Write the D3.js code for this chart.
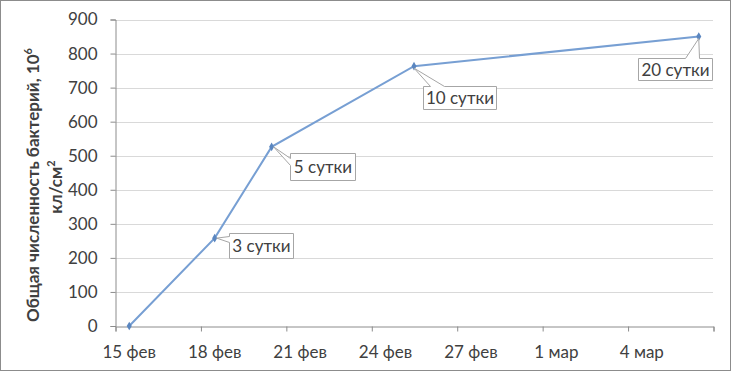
<!DOCTYPE html>
<html>
<head>
<meta charset="utf-8">
<script src="https://cdn.jsdelivr.net/npm/d3@7"></script>
<style>
  body { margin: 0; background: #fff; }
  text { font-family: Lato, "Open Sans", sans-serif; fill: #404040; }
</style>
</head>
<body>
<div id="vizDiv"></div>
<script>
// data (leap year, so 27 фев + 3 = 1 мар)
var dates = ["2016-02-15", "2016-02-18", "2016-02-20", "2016-02-25", "2016-03-06"]
var counts = [0, 258, 526, 763, 850]
var dayLabels = ["", "3 сутки", "5 сутки", "10 сутки", "20 сутки"]
var yTicks = [0, 100, 200, 300, 400, 500, 600, 700, 800, 900]
var monthNames = ["янв", "фев", "мар", "апр"]

var width = 731
var height = 371
var plotLeft = 115, plotRight = 713, plotTop = 19.5, plotBottom = 326
var fontSize = "17px"

var parse = d3.timeParse("%Y-%m-%d")
var start = new Date(2016, 1, 15)
var end = new Date(2016, 2, 7)

var svg = d3.select("#vizDiv")
  .append("svg")
  .attr("width", width)
  .attr("height", height)

// outer frame
svg.append("rect")
  .attr("x", 0.5).attr("y", 0.5)
  .attr("width", width - 1).attr("height", height - 1)
  .attr("fill", "#fff")
  .attr("stroke", "#8c8c8c")

var x = d3.scaleTime().domain([start, end]).range([plotLeft, plotRight])
var y = d3.scaleLinear().domain([0, 900]).range([plotBottom, plotTop])

// points sit in the middle of their day
function midDay(d) { return d3.timeHour.offset(d, 12) }

// horizontal gridlines
svg.selectAll(".grid")
  .data(yTicks.slice(1))
  .enter().append("line")
  .attr("x1", plotLeft).attr("x2", plotRight)
  .attr("y1", function(d) { return Math.round(y(d)) + 0.5 })
  .attr("y2", function(d) { return Math.round(y(d)) + 0.5 })
  .attr("stroke", "#d9d9d9")

// y axis
var yAxis = svg.append("g")
  .attr("transform", "translate(" + (plotLeft + 0.5) + ",0)")
  .call(d3.axisLeft(y).tickValues(yTicks).tickSize(5).tickPadding(13))
yAxis.select(".domain").attr("stroke", "#8c8c8c")
yAxis.selectAll(".tick line").attr("stroke", "#8c8c8c")
yAxis.selectAll(".tick text")
  .style("font-size", fontSize)
  .style("font-family", "Lato, sans-serif")
  .attr("fill", "#404040")

// x axis, a tick every 3 days
var xTickDates = d3.timeDay.range(start, d3.timeDay.offset(end, 1), 3)
var xAxis = svg.append("g")
  .attr("transform", "translate(0.5," + (Math.round(plotBottom) + 0.5) + ")")
  .call(d3.axisBottom(x).tickValues(xTickDates).tickSize(5).tickFormat(""))
xAxis.select(".domain").attr("stroke", "#8c8c8c")
xAxis.selectAll(".tick line").attr("stroke", "#8c8c8c")

// labels centred on their day, last one is not shown
svg.selectAll(".xlab")
  .data(xTickDates.slice(0, -1))
  .enter().append("text")
  .attr("x", function(d) { return x(midDay(d)) })
  .attr("y", 358)
  .attr("text-anchor", "middle")
  .style("font-size", fontSize)
  .text(function(d) { return d.getDate() + " " + monthNames[d.getMonth()] })

// y title
var title = svg.append("text")
  .attr("transform", "translate(39,185) rotate(-90)")
  .attr("text-anchor", "middle")
  .style("font-size", fontSize)
  .style("font-weight", "bold")
title.append("tspan").text("Общая численность бактерий, 10")
title.append("tspan").attr("dy", -7).style("font-size", "11px").text("6")
var title2 = svg.append("text")
  .attr("transform", "translate(62,187) rotate(-90)")
  .attr("text-anchor", "middle")
  .style("font-size", fontSize)
  .style("font-weight", "bold")
title2.append("tspan").text("кл/см")
title2.append("tspan").attr("dy", -7).style("font-size", "11px").text("2")

// series
var points = dates.map(function(d, i) {
  return { date: midDay(parse(d)), value: counts[i], label: dayLabels[i] }
})

svg.append("path")
  .datum(points)
  .attr("d", d3.line()
    .x(function(d) { return x(d.date) })
    .y(function(d) { return y(d.value) }))
  .attr("fill", "none")
  .attr("stroke", "#779fd3")
  .attr("stroke-width", 2)

svg.selectAll(".marker")
  .data(points)
  .enter().append("path")
  .attr("transform", function(d) { return "translate(" + x(d.date) + "," + y(d.value) + ")" })
  .attr("d", d3.symbol().type(d3.symbolDiamond).size(22))
  .attr("fill", "#5a86c0")

// callouts: box offset from point, wedge side and base along that side
var callouts = [
  null,
  { dx: 14, dy: -5, w: 64, h: 25, side: "left", a: 3, b: 9 },
  { dx: 18, dy: 6, w: 65, h: 27, side: "left", a: 5, b: 12 },
  { dx: 9, dy: 20, w: 73, h: 23, side: "top", a: 7, b: 21 },
  { dx: -61, dy: 21, w: 74, h: 22, side: "top", a: 47, b: 61 }
]

points.forEach(function(p, i) {
  var c = callouts[i]
  if (!c || !p.label) return
  var px = x(p.date), py = y(p.value)
  var bx = Math.round(px + c.dx) + 0.5, by = Math.round(py + c.dy) + 0.5
  var pts
  if (c.side == "left") {
    pts = [[bx, by], [bx + c.w, by], [bx + c.w, by + c.h], [bx, by + c.h],
           [bx, by + c.b], [px + 2, py], [bx, by + c.a]]
  } else {
    pts = [[bx, by], [bx + c.a, by], [px, py + 2], [bx + c.b, by],
           [bx + c.w, by], [bx + c.w, by + c.h], [bx, by + c.h]]
  }
  svg.append("path")
    .attr("d", d3.line()(pts) + "Z")
    .attr("fill", "#fff")
    .attr("stroke", "#a6a6a6")
  svg.append("text")
    .attr("x", bx + c.w / 2)
    .attr("y", by + c.h / 2 + 6)
    .attr("text-anchor", "middle")
    .style("font-size", fontSize)
    .text(p.label)
})
</script>
</body>
</html>
